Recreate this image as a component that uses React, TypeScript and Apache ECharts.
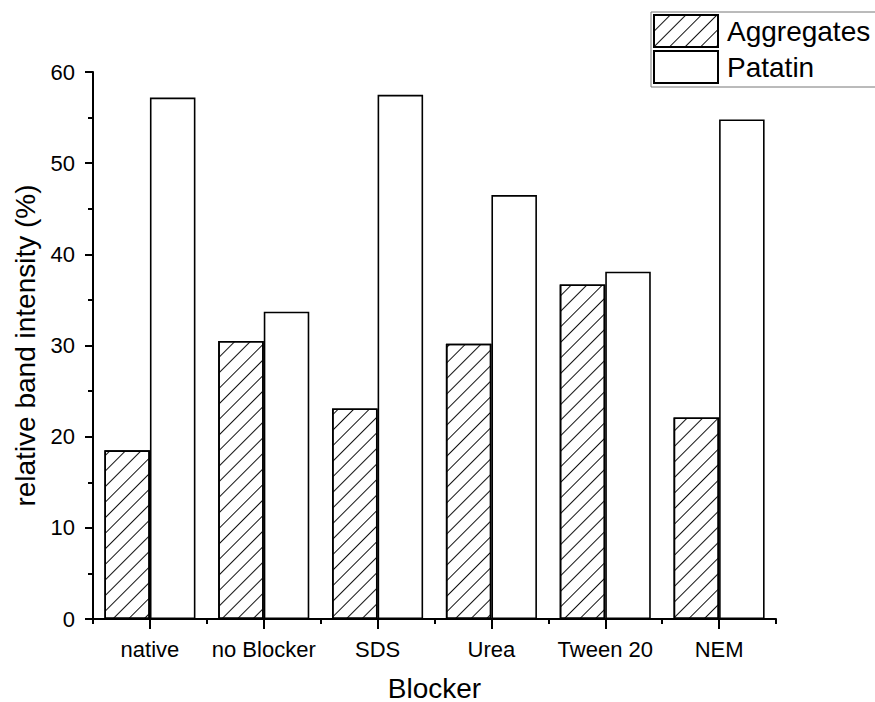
import React, { useEffect, useRef } from "react";
import * as echarts from "echarts";

const categories = ["native", "no Blocker", "SDS", "Urea", "Tween 20", "NEM"];
const aggregates = [18.5, 30.5, 23.1, 30.2, 36.7, 22.1];
const patatin = [57.2, 33.7, 57.5, 46.5, 38.1, 54.8];
const seriesNames = ["Aggregates", "Patatin"];

const FONT = "Arial, 'Liberation Sans', Helvetica, sans-serif";

export default function App() {
  const ref = useRef<HTMLDivElement>(null);
  useEffect(() => {
    if (!ref.current) return;
    const chart = echarts.init(ref.current, null, { renderer: "svg" });
    const hatch = {
      symbol: "rect",
      symbolSize: 1,
      dashArrayX: [[1, 0]],
      dashArrayY: [1, 10],
      rotation: -Math.PI / 4,
      color: "#111",
      backgroundColor: "#fff",
    };
    chart.setOption({
      animation: false,
      backgroundColor: "#fff",
      textStyle: { fontFamily: FONT, color: "#000" },
      grid: {
        left: 93,
        right: 99,
        top: 72,
        bottom: 83,
        containLabel: false,
        outerBoundsMode: "none",
      },
      legend: {
        left: 651,
        top: 12,
        orient: "vertical",
        itemWidth: 64,
        itemHeight: 32,
        itemGap: 2,
        padding: [2, 60, 3, 2],
        borderColor: "#777",
        borderWidth: 1,
        icon: "rect",
        data: seriesNames,
        textStyle: { fontSize: 28, color: "#000", fontFamily: FONT, padding: [0, 0, 0, 4] },
      },
      xAxis: [
        {
          type: "category",
          data: categories,
          position: "bottom",
          axisLine: { show: true, lineStyle: { color: "#000", width: 2 } },
          axisTick: { show: true, alignWithLabel: true, length: 10, lineStyle: { color: "#000", width: 2 } },
          axisLabel: { fontSize: 22, color: "#000", margin: 19, fontFamily: FONT, interval: 0 },
          name: "Blocker",
          nameLocation: "middle",
          nameGap: 55,
          nameTextStyle: { fontSize: 28, color: "#000", fontFamily: FONT },
          splitLine: { show: false },
        },
        {
          type: "category",
          data: categories,
          position: "bottom",
          offset: 0,
          axisLine: { show: false },
          axisTick: { show: true, length: 5, lineStyle: { color: "#000", width: 2 } },
          axisLabel: { show: false },
          splitLine: { show: false },
        },
      ],
      yAxis: {
        type: "value",
        min: 0,
        max: 60,
        interval: 10,
        axisLine: { show: true, lineStyle: { color: "#000", width: 2 } },
        axisTick: { show: true, length: 8, lineStyle: { color: "#000", width: 2 } },
        minorTick: { show: true, splitNumber: 2, length: 5, lineStyle: { color: "#000", width: 2 } },
        axisLabel: { fontSize: 22, color: "#000", margin: 18, fontFamily: FONT },
        splitLine: { show: false },
        name: "relative band intensity (%)",
        nameLocation: "middle",
        nameGap: 50,
        nameTextStyle: { fontSize: 28, color: "#000", fontFamily: FONT },
      },
      series: [
        {
          name: seriesNames[0],
          type: "bar",
          xAxisIndex: 0,
          data: aggregates,
          barGap: "0%",
          barCategoryGap: "20%",
          itemStyle: { color: "#fff", borderColor: "#000", borderWidth: 1.6, decal: hatch },
        },
        {
          name: seriesNames[1],
          type: "bar",
          xAxisIndex: 0,
          data: patatin,
          barGap: "0%",
          barCategoryGap: "20%",
          itemStyle: { color: "#fff", borderColor: "#000", borderWidth: 1.6 },
        },
      ],
    });
    return () => chart.dispose();
  }, []);
  return (
    <div
      ref={ref}
      style={{ position: "absolute", left: 0, top: 0, width: 875, height: 702, background: "#fff" }}
    />
  );
}
